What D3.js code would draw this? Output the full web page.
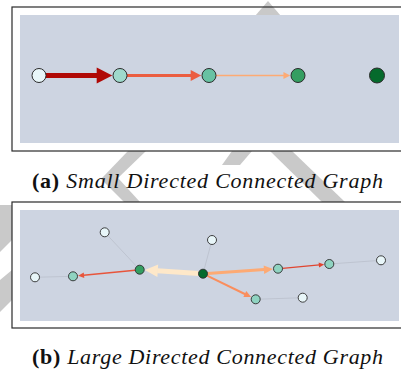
<!DOCTYPE html>
<html><head><meta charset="utf-8">
<script src="https://cdn.jsdelivr.net/npm/d3@7"></script>
<style>html,body{margin:0;padding:0;background:#fff;}svg{display:block;}</style>
</head><body>
<svg id="c" width="401" height="373"></svg>
<script>
// ---------- data: (a) small directed connected graph ----------
const smallNodes = ["a1","a2","a3","a4","a5"];
const smallX = [0, 81, 170, 259, 338];           // layout units
const smallY = [0, 0, 0, 0, 0];
const smallLevel = [0.1, 0.36, 0.5, 0.68, 0.88]; // node colour value (BuGn)
const smallEdgeSource = [0, 1, 2];
const smallEdgeTarget = [1, 2, 3];
const smallEdgeWeight = [5, 3, 1.5];             // edge thickness
const smallEdgeColor  = [0.875, 0.64, 0.42];     // edge colour value (OrRd)

// ---------- data: (b) large directed connected graph ----------
const bigNodes = ["A","B","C","D","E","F","G","H","I","J","K"];
const bigX = [84.7, 15, 53, 119.7, 183, 192, 258, 309.3, 361, 235.7, 282.7];
const bigY = [22.3, 67.3, 66.3, 59.7, 63.7, 30, 58.7, 54, 50.3, 89.3, 87.7];
const bigLevel = [0.1, 0.1, 0.4, 0.68, 0.88, 0.1, 0.4, 0.4, 0.1, 0.4, 0.1];
const bigEdgeSource = [4, 4, 4, 3, 6];
const bigEdgeTarget = [3, 6, 9, 2, 7];
const bigEdgeWeight = [5, 3, 2, 1.5, 1.2];
const bigEdgeColor  = [0.12, 0.42, 0.5, 0.66, 0.7];
const bigLinkSource = [0, 1, 5, 7, 9];
const bigLinkTarget = [3, 2, 4, 8, 10];

const captions = [
  {label: "(a)", text: " Small Directed Connected Graph"},
  {label: "(b)", text: " Large Directed Connected Graph"}
];

// ---------- drawing ----------
const svg = d3.select("#c");
const panelBg = "#cdd4e1";

// watermark (behind panels)
const wm = svg.append("g").attr("fill", "#c9c9c9");
[
  [[255,16],[268,1],[281,16]],
  [[128,151],[146,151],[118,178],[102,178]],
  [[100,178],[118,178],[140,202],[124,202]],
  [[232,151],[252,151],[240,165],[222,165]],
  [[270,151],[292,151],[345,202],[322,202]],
  [[0,205],[12,205],[12,240],[0,252]],
  [[0,280],[12,270],[12,300],[0,312]]
].forEach(p => wm.append("polygon").attr("points", p.map(q => q.join(",")).join(" ")));

function panel(frame, inner) {
  svg.append("rect").attr("x", inner.x).attr("y", inner.y)
    .attr("width", inner.w).attr("height", inner.h).attr("fill", panelBg);
  svg.append("rect").attr("x", frame.x).attr("y", frame.y)
    .attr("width", frame.w).attr("height", frame.h)
    .attr("fill", "none").attr("stroke", "#2a2a2a").attr("stroke-width", 1.2);
}

const nodeColor = v => d3.interpolateBuGn(v);
const edgeColor = v => d3.interpolateOrRd(v);

function arrow(g, s, t, rs, rt, w, color, hl, hw) {
  const dx = t[0] - s[0], dy = t[1] - s[1];
  const L = Math.hypot(dx, dy), ux = dx / L, uy = dy / L, nx = -uy, ny = ux;
  const st = [s[0] + ux * rs, s[1] + uy * rs];
  const tip = [t[0] - ux * rt, t[1] - uy * rt];
  const base = [tip[0] - ux * hl, tip[1] - uy * hl];
  g.append("line").attr("x1", st[0]).attr("y1", st[1])
    .attr("x2", base[0] + ux * 0.5).attr("y2", base[1] + uy * 0.5)
    .attr("stroke", color).attr("stroke-width", w);
  g.append("polygon").attr("points", [
      tip, [base[0] + nx * hw / 2, base[1] + ny * hw / 2],
      [base[0] - nx * hw / 2, base[1] - ny * hw / 2]
    ].map(p => p.join(",")).join(" ")).attr("fill", color);
}

// ---- panel (a)
panel({x: 12, y: 7, w: 392, h: 144}, {x: 20, y: 15, w: 379, h: 128});
{
  const x = d3.scaleLinear().domain([0, 338]).range([39, 377]);
  const y = d3.scaleLinear().domain([-1, 1]).range([15, 136]);
  const r = 7;
  const g = svg.append("g");
  smallEdgeSource.forEach((s, i) => {
    const t = smallEdgeTarget[i], w = smallEdgeWeight[i];
    arrow(g, [x(smallX[s]), y(smallY[s])], [x(smallX[t]), y(smallY[t])],
      r, r + 0.8, w, edgeColor(smallEdgeColor[i]), 2.5 * w + 3, 2.6 * w + 3);
  });
  g.selectAll("circle").data(smallNodes).join("circle")
    .attr("cx", (d, i) => x(smallX[i])).attr("cy", (d, i) => y(smallY[i]))
    .attr("r", (d, i) => i === 4 ? 7.5 : r)
    .attr("fill", (d, i) => nodeColor(smallLevel[i]))
    .attr("stroke", "#2b2b2b").attr("stroke-width", 1);
}

// ---- panel (b)
panel({x: 12, y: 202, w: 392, h: 126}, {x: 20, y: 210, w: 379, h: 111});
{
  const x = d3.scaleLinear().domain([0, 379]).range([20, 399]);
  const y = d3.scaleLinear().domain([0, 111]).range([210, 321]);
  const r = 4.5;
  const g = svg.append("g");
  bigLinkSource.forEach((s, i) => {
    const t = bigLinkTarget[i];
    g.append("line").attr("x1", x(bigX[s])).attr("y1", y(bigY[s]))
      .attr("x2", x(bigX[t])).attr("y2", y(bigY[t]))
      .attr("stroke", "#b4b8c4").attr("stroke-width", 0.6);
  });
  bigEdgeSource.forEach((s, i) => {
    const t = bigEdgeTarget[i], w = bigEdgeWeight[i];
    arrow(g, [x(bigX[s]), y(bigY[s])], [x(bigX[t]), y(bigY[t])],
      r, r + 0.6, w, edgeColor(bigEdgeColor[i]), 2.0 * w + 3, 2.0 * w + 2.5);
  });
  g.selectAll("circle").data(bigNodes).join("circle")
    .attr("cx", (d, i) => x(bigX[i])).attr("cy", (d, i) => y(bigY[i]))
    .attr("r", r)
    .attr("fill", (d, i) => nodeColor(bigLevel[i]))
    .attr("stroke", "#2b2b2b").attr("stroke-width", 0.9);
}

// ---- captions
[188, 364].forEach((yy, i) => {
  const t = svg.append("text").attr("x", 207.5).attr("y", yy)
    .attr("text-anchor", "middle")
    .attr("font-family", "'Liberation Serif', 'DejaVu Serif', serif")
    .attr("font-size", 22).attr("fill", "#111")
    .attr("textLength", 351).attr("lengthAdjust", "spacing");
  t.append("tspan").attr("font-weight", "bold").text(captions[i].label);
  t.append("tspan").attr("font-style", "italic").text(captions[i].text);
});
</script>
</body></html>
